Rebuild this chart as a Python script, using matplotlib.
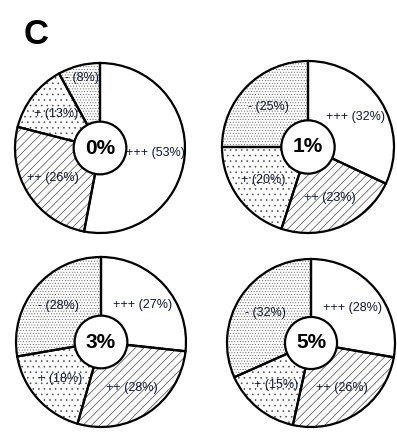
import matplotlib
matplotlib.use('Agg')
import matplotlib.pyplot as plt
import numpy as np

plt.rcParams['font.family'] = ['Liberation Sans', 'DejaVu Sans']
plt.rcParams['hatch.linewidth'] = 0.4

# Datos de cada grupo (sentido horario desde arriba)
categorias = ['+++', '++', '+', '-']
grupos = ['0%', '1%', '3%', '5%']
valores_0 = [53, 26, 13, 8]
valores_1 = [32, 23, 20, 25]
valores_3 = [27, 28, 18, 28]
valores_5 = [28, 26, 15, 32]
valores = [valores_0, valores_1, valores_3, valores_5]

hatches = ['', '////', '...', '......']
hatch_colores = ['white', '#222222', '#444444', '#666666']

# Centros y radios de cada pastel en pixeles (origen arriba a la izquierda)
W, H = 397, 433
centros = [(100, 148), (308, 147), (101, 342), (311, 343)]
radios = [85, 86, 85, 84]

fig = plt.figure(figsize=(W / 100, H / 100), dpi=100)
fig.text(36 / W, 1 - 35 / H, 'C', fontsize=25, fontweight='bold',
         ha='center', va='center')

for grupo, vals, (cx, cy), r in zip(grupos, valores, centros, radios):
    ax = fig.add_axes([(cx - r) / W, 1 - (cy + r) / H, 2 * r / W, 2 * r / H])
    # relleno con tramas (color de trama = edgecolor)
    wedges, _ = ax.pie(vals, startangle=90, counterclock=False, radius=1,
                       colors=['white'] * 4,
                       wedgeprops=dict(linewidth=0))
    for w, h, c in zip(wedges, hatches, hatch_colores):
        w.set_hatch(h)
        w.set_edgecolor(c)
    # contornos negros encima
    bordes, _ = ax.pie(vals, startangle=90, counterclock=False, radius=1,
                       wedgeprops=dict(fill=False, edgecolor='black',
                                       linewidth=1.6))
    total = sum(vals)
    for w, cat, v in zip(wedges, categorias, vals):
        ang = np.deg2rad((w.theta1 + w.theta2) / 2)
        d = 0.65 if v / total > 0.1 else 0.85
        ax.text(d * np.cos(ang), d * np.sin(ang), f'{cat} ({v}%)',
                ha='center', va='center', fontsize=9, color='#101830')
    centro = plt.Circle((0, 0), 0.31, facecolor='white', edgecolor='black',
                        linewidth=1.6, zorder=5)
    ax.add_patch(centro)
    ax.text(0, 0, grupo, ha='center', va='center', fontsize=15,
            fontweight='bold', zorder=6)
    ax.set_xlim(-1, 1)
    ax.set_ylim(-1, 1)
    ax.set_aspect('equal')
    ax.axis('off')

fig.savefig('out.png', dpi=100)
